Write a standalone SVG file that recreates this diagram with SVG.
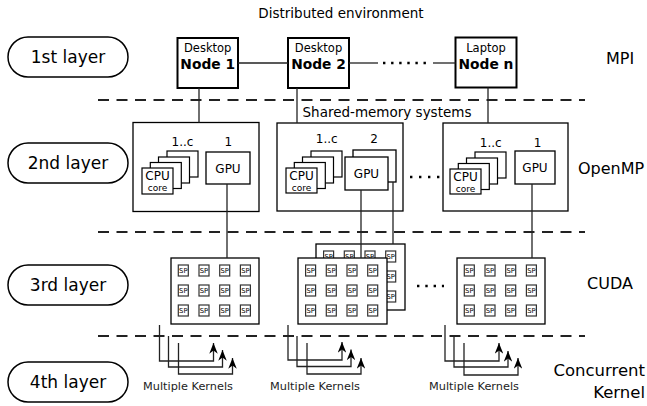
<svg xmlns="http://www.w3.org/2000/svg" width="647" height="406" viewBox="0 0 647 406">
<style>
text{font-family:"DejaVu Sans","Liberation Sans",sans-serif;fill:#000}
.pill{fill:#fff;stroke:#000;stroke-width:1.5}
.lay{font-size:17px;text-anchor:middle}
.side{font-size:16px}
.node{fill:#fff;stroke:#000;stroke-width:2}
.sm{font-size:11.5px;text-anchor:middle}
.nb{font-size:13.8px;font-weight:bold;text-anchor:middle}
.box{fill:#fff;stroke:#000;stroke-width:1.3}
.card{fill:#fff;stroke:#000;stroke-width:1.2}
.t12{font-size:12px;text-anchor:middle}
.t9{font-size:9px;text-anchor:middle}
.sp{fill:#fff;stroke:#333;stroke-width:1.2}
.spt{font-size:6.8px;text-anchor:middle}
.dash{fill:none;stroke:#222;stroke-width:2;stroke-dasharray:11 7.5}
.ln{fill:none;stroke:#222;stroke-width:1.3}
.dots{fill:none;stroke:#000;stroke-width:2.4}
.arr{fill:none;stroke:#222;stroke-width:1.3;marker-end:url(#ah)}
.mk{font-size:11.3px;text-anchor:middle;fill:#222}
</style>
<defs>
<marker id="ah" viewBox="0 0 10 8" refX="10" refY="4" markerWidth="12" markerHeight="8.5" markerUnits="userSpaceOnUse" orient="auto">
<path d="M0,0 L10,4 L0,8 L3,4 Z" fill="#000"/>
</marker>
</defs>

<text x="341" y="18" style="font-size:13.5px;text-anchor:middle">Distributed environment</text>

<g id="dividers">
<line class="dash" x1="98" y1="100" x2="585" y2="100"/>
<line class="dash" x1="98" y1="232" x2="585" y2="232"/>
<line class="dash" x1="98" y1="336" x2="585" y2="336"/>
</g>

<g id="layer1"><rect class="pill" x="8" y="37" width="120" height="40" rx="20"/><text class="lay" x="68" y="63">1st layer</text></g>
<g id="layer2"><rect class="pill" x="8" y="143" width="120" height="40" rx="20"/><text class="lay" x="68" y="169">2nd layer</text></g>
<g id="layer3"><rect class="pill" x="8" y="265" width="120" height="40" rx="20"/><text class="lay" x="68" y="291">3rd layer</text></g>
<g id="layer4"><rect class="pill" x="8" y="362" width="120" height="40" rx="20"/><text class="lay" x="68" y="388">4th layer</text></g>

<text class="side" x="606" y="64">MPI</text>
<text class="side" x="578" y="174">OpenMP</text>
<text class="side" x="587" y="289">CUDA</text>
<text class="side" x="645" y="376" style="text-anchor:end;font-size:16.5px">Concurrent</text>
<text class="side" x="645" y="398" style="text-anchor:end;font-size:16.5px">Kernel</text>

<g id="node1"><rect class="node" x="177.5" y="38" width="60.5" height="50"/><text class="sm" x="207.7" y="52">Desktop</text><text class="nb" x="207.7" y="69">Node 1</text></g>
<g id="node2"><rect class="node" x="288" y="38" width="61" height="50"/><text class="sm" x="318.5" y="52">Desktop</text><text class="nb" x="318.5" y="69">Node 2</text></g>
<g id="noden"><rect class="node" x="455.5" y="37.5" width="61" height="50"/><text class="sm" x="486" y="52">Laptop</text><text class="nb" x="486" y="69">Node n</text></g>

<text x="302.5" y="117" style="font-size:13.5px">Shared-memory systems</text>

<g id="smp1">
<rect class="box" x="133" y="122.5" width="126" height="89"/>
<text class="t12" x="182.5" y="146">1..c</text><text class="t12" x="228.3" y="146">1</text>
<rect class="card" x="167" y="151" width="31" height="26"/>
<rect class="card" x="158.5" y="157" width="31" height="26"/>
<rect class="card" x="150.3" y="162.5" width="31" height="26"/>
<rect class="card" x="142" y="168" width="31" height="26"/>
<text class="t12" x="157.5" y="180">CPU</text><text class="t9" x="157.5" y="191">core</text>
<rect class="box" x="206" y="152" width="44" height="32"/><text class="t12" x="228" y="172.5">GPU</text>
</g>

<g id="smp2">
<rect class="box" x="277" y="123" width="126" height="88"/>
<text class="t12" x="326.7" y="143">1..c</text><text class="t12" x="374" y="143">2</text>
<rect class="card" x="311" y="151" width="31" height="26"/>
<rect class="card" x="302.5" y="157" width="31" height="26"/>
<rect class="card" x="294.3" y="162.5" width="31" height="26"/>
<rect class="card" x="286" y="168" width="31" height="25"/>
<text class="t12" x="301.5" y="180">CPU</text><text class="t9" x="301.5" y="191">core</text>
<rect class="box" x="353" y="150" width="43" height="32"/>
<rect class="box" x="345" y="157" width="43" height="33"/><text class="t12" x="366.5" y="178">GPU</text>
</g>

<g id="smp3">
<rect class="box" x="443" y="123" width="125" height="88"/>
<text class="t12" x="490.8" y="146.5">1..c</text><text class="t12" x="537.5" y="146.5">1</text>
<rect class="card" x="475" y="152" width="31" height="26"/>
<rect class="card" x="466.5" y="158" width="31" height="26"/>
<rect class="card" x="458.3" y="163.5" width="31" height="26"/>
<rect class="card" x="450" y="169" width="31" height="25"/>
<text class="t12" x="465.5" y="181">CPU</text><text class="t9" x="465.5" y="192">core</text>
<rect class="box" x="515" y="151" width="40" height="33"/><text class="t12" x="535" y="172">GPU</text>
</g>

<g id="gpu1">
<rect class="box" x="171" y="258" width="88" height="66"/>
<g transform="translate(178.3,265)"><rect class="sp" width="10" height="11"/><text class="spt" x="5" y="8">SP</text></g>
<g transform="translate(199,265)"><rect class="sp" width="10" height="11"/><text class="spt" x="5" y="8">SP</text></g>
<g transform="translate(219.7,265)"><rect class="sp" width="10" height="11"/><text class="spt" x="5" y="8">SP</text></g>
<g transform="translate(240.4,265)"><rect class="sp" width="10" height="11"/><text class="spt" x="5" y="8">SP</text></g>
<g transform="translate(178.3,285)"><rect class="sp" width="10" height="11"/><text class="spt" x="5" y="8">SP</text></g>
<g transform="translate(199,285)"><rect class="sp" width="10" height="11"/><text class="spt" x="5" y="8">SP</text></g>
<g transform="translate(219.7,285)"><rect class="sp" width="10" height="11"/><text class="spt" x="5" y="8">SP</text></g>
<g transform="translate(240.4,285)"><rect class="sp" width="10" height="11"/><text class="spt" x="5" y="8">SP</text></g>
<g transform="translate(178.3,305)"><rect class="sp" width="10" height="11"/><text class="spt" x="5" y="8">SP</text></g>
<g transform="translate(199,305)"><rect class="sp" width="10" height="11"/><text class="spt" x="5" y="8">SP</text></g>
<g transform="translate(219.7,305)"><rect class="sp" width="10" height="11"/><text class="spt" x="5" y="8">SP</text></g>
<g transform="translate(240.4,305)"><rect class="sp" width="10" height="11"/><text class="spt" x="5" y="8">SP</text></g>
</g>

<g id="gpu2back">
<rect class="box" x="316" y="244" width="89" height="66"/>
<g transform="translate(323.6,251)"><rect class="sp" width="10" height="11"/><text class="spt" x="5" y="8">SP</text></g>
<g transform="translate(344.3,251)"><rect class="sp" width="10" height="11"/><text class="spt" x="5" y="8">SP</text></g>
<g transform="translate(365,251)"><rect class="sp" width="10" height="11"/><text class="spt" x="5" y="8">SP</text></g>
<g transform="translate(385.7,251)"><rect class="sp" width="10" height="11"/><text class="spt" x="5" y="8">SP</text></g>
<g transform="translate(385.7,271)"><rect class="sp" width="10" height="11"/><text class="spt" x="5" y="8">SP</text></g>
<g transform="translate(385.7,291)"><rect class="sp" width="10" height="11"/><text class="spt" x="5" y="8">SP</text></g>
</g>

<g id="gpu2">
<rect class="box" x="298" y="258" width="89" height="66"/>
<g transform="translate(305.6,265)"><rect class="sp" width="10" height="11"/><text class="spt" x="5" y="8">SP</text></g>
<g transform="translate(326.3,265)"><rect class="sp" width="10" height="11"/><text class="spt" x="5" y="8">SP</text></g>
<g transform="translate(347,265)"><rect class="sp" width="10" height="11"/><text class="spt" x="5" y="8">SP</text></g>
<g transform="translate(367.7,265)"><rect class="sp" width="10" height="11"/><text class="spt" x="5" y="8">SP</text></g>
<g transform="translate(305.6,285)"><rect class="sp" width="10" height="11"/><text class="spt" x="5" y="8">SP</text></g>
<g transform="translate(326.3,285)"><rect class="sp" width="10" height="11"/><text class="spt" x="5" y="8">SP</text></g>
<g transform="translate(347,285)"><rect class="sp" width="10" height="11"/><text class="spt" x="5" y="8">SP</text></g>
<g transform="translate(367.7,285)"><rect class="sp" width="10" height="11"/><text class="spt" x="5" y="8">SP</text></g>
<g transform="translate(305.6,305)"><rect class="sp" width="10" height="11"/><text class="spt" x="5" y="8">SP</text></g>
<g transform="translate(326.3,305)"><rect class="sp" width="10" height="11"/><text class="spt" x="5" y="8">SP</text></g>
<g transform="translate(347,305)"><rect class="sp" width="10" height="11"/><text class="spt" x="5" y="8">SP</text></g>
<g transform="translate(367.7,305)"><rect class="sp" width="10" height="11"/><text class="spt" x="5" y="8">SP</text></g>
</g>

<g id="gpu3">
<rect class="box" x="457" y="258" width="88" height="66"/>
<g transform="translate(464.3,265)"><rect class="sp" width="10" height="11"/><text class="spt" x="5" y="8">SP</text></g>
<g transform="translate(485,265)"><rect class="sp" width="10" height="11"/><text class="spt" x="5" y="8">SP</text></g>
<g transform="translate(505.7,265)"><rect class="sp" width="10" height="11"/><text class="spt" x="5" y="8">SP</text></g>
<g transform="translate(526.4,265)"><rect class="sp" width="10" height="11"/><text class="spt" x="5" y="8">SP</text></g>
<g transform="translate(464.3,285)"><rect class="sp" width="10" height="11"/><text class="spt" x="5" y="8">SP</text></g>
<g transform="translate(485,285)"><rect class="sp" width="10" height="11"/><text class="spt" x="5" y="8">SP</text></g>
<g transform="translate(505.7,285)"><rect class="sp" width="10" height="11"/><text class="spt" x="5" y="8">SP</text></g>
<g transform="translate(526.4,285)"><rect class="sp" width="10" height="11"/><text class="spt" x="5" y="8">SP</text></g>
<g transform="translate(464.3,305)"><rect class="sp" width="10" height="11"/><text class="spt" x="5" y="8">SP</text></g>
<g transform="translate(485,305)"><rect class="sp" width="10" height="11"/><text class="spt" x="5" y="8">SP</text></g>
<g transform="translate(505.7,305)"><rect class="sp" width="10" height="11"/><text class="spt" x="5" y="8">SP</text></g>
<g transform="translate(526.4,305)"><rect class="sp" width="10" height="11"/><text class="spt" x="5" y="8">SP</text></g>
</g>

<g id="connectors">
<line class="ln" x1="238" y1="63" x2="288" y2="63"/>
<line class="ln" x1="349" y1="63" x2="378" y2="63"/>
<line class="dots" x1="383" y1="63" x2="426" y2="63" stroke-dasharray="2.4 5.7"/>
<line class="ln" x1="433" y1="63" x2="455.5" y2="63"/>
<line class="ln" x1="199" y1="88" x2="199" y2="122.5"/>
<line class="ln" x1="297" y1="88" x2="297" y2="123"/>
<line class="ln" x1="488" y1="87.5" x2="488" y2="123"/>
<line class="dots" x1="410" y1="177" x2="440" y2="177" stroke-dasharray="2.4 6.6"/>
<line class="ln" x1="227" y1="184" x2="227" y2="258"/>
<line class="ln" x1="393" y1="182" x2="393" y2="244"/>
<line class="ln" x1="361" y1="190" x2="361" y2="258"/>
<line class="ln" x1="532" y1="184" x2="532" y2="258"/>
<line class="dots" x1="417" y1="286" x2="444" y2="286" stroke-dasharray="2.4 5.9"/>
<path class="arr" d="M159.5,325 V361 H213.5 V343"/>
<path class="arr" d="M168.5,336 V367 H222.5 V350"/>
<path class="arr" d="M178.5,343 V374 H232.5 V358"/>
<path class="arr" d="M288,325 V360 H342 V342"/>
<path class="arr" d="M297,336 V366.5 H351 V349.5"/>
<path class="arr" d="M307,343 V374 H361 V358"/>
<path class="arr" d="M445,325 V361 H499 V343"/>
<path class="arr" d="M454,336 V367 H508 V351"/>
<path class="arr" d="M464,343 V375 H518 V358"/>
</g>

<text class="mk" x="188" y="390">Multiple Kernels</text>
<text class="mk" x="315" y="390">Multiple Kernels</text>
<text class="mk" x="474" y="390">Multiple Kernels</text>
</svg>
